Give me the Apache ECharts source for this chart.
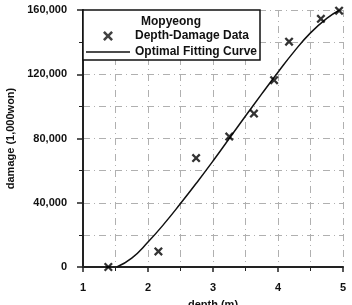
<!DOCTYPE html>
<html>
<head>
<meta charset="utf-8">
<script src="https://cdn.jsdelivr.net/npm/echarts@6/dist/echarts.min.js"></script>
<style>html,body{margin:0;padding:0;background:#fff}#c{width:352px;height:305px}</style>
</head>
<body>
<div id="c"></div>
<script>
var dataDepth = [1.39, 2.16, 2.74, 3.25, 3.63, 3.94, 4.17, 4.66, 4.94];
var dataDamage = [0, 9700, 67800, 81200, 95500, 116300, 140300, 154500, 159600];
var curveDepth = [1.52, 1.75, 2.0, 2.25, 2.5, 2.75, 3.0, 3.25, 3.5, 3.75, 4.0, 4.25, 4.5, 4.75, 4.95];
var curveDamage = [0, 5500, 15500, 27000, 39500, 52500, 66000, 80000, 94000, 107750, 121250, 134250, 145750, 154750, 160000];
var xTicks = [1, 2, 3, 4, 5];
var yTicks = [0, 40000, 80000, 120000, 160000];
var legendTitle = 'Mopyeong';
var seriesNames = ['Depth-Damage Data', 'Optimal Fitting Curve'];

var crossPath = 'path://M0,1.8 L1.8,0 L5,3.2 L8.2,0 L10,1.8 L6.8,5 L10,8.2 L8.2,10 L5,6.8 L1.8,10 L0,8.2 L3.2,5 Z';
var linePath = 'path://M0,0 L44,0 L44,1.5 L0,1.5 Z';
var font = 'Liberation Sans, Arial, sans-serif';
var gridLine = {show: true, lineStyle: {color: '#b0b0b0', width: 1, type: [7, 4, 1, 4]}};

var chart = echarts.init(document.getElementById('c'));
chart.setOption({
  animation: false,
  backgroundColor: '#fff',
  title: {
    text: legendTitle, left: 171, top: 16, textAlign: 'center', padding: 0,
    textStyle: {fontFamily: font, fontWeight: 'bold', fontSize: 12, color: '#111'}
  },
  legend: {
    orient: 'vertical', left: 83, top: 10,
    padding: [20, 3, 2, 3],
    itemWidth: 44, itemHeight: 10, itemGap: 4, itemTextGap: 4,
    backgroundColor: '#fff', borderColor: '#111', borderWidth: 1.5,
    textStyle: {fontFamily: font, fontWeight: 'bold', fontSize: 12, color: '#111'},
    data: [
      {name: seriesNames[0], icon: crossPath, itemStyle: {color: '#111'}},
      {name: seriesNames[1], icon: linePath, itemStyle: {color: '#111'}}
    ]
  },
  grid: {left: 83, right: 9, top: 10, bottom: 38, outerBoundsMode: 'none', containLabel: false},
  xAxis: {
    type: 'value', min: xTicks[0], max: xTicks[xTicks.length - 1], interval: 1,
    name: 'depth (m)', nameLocation: 'middle', nameGap: 32,
    nameTextStyle: {fontFamily: font, fontWeight: 'bold', fontSize: 11, color: '#111'},
    axisLine: {lineStyle: {color: '#222', width: 2}},
    axisTick: {show: true, length: 5, lineStyle: {color: '#222', width: 1.5}},
    minorTick: {show: true, splitNumber: 2, length: 4, lineStyle: {color: '#222', width: 1}},
    splitLine: gridLine,
    minorSplitLine: gridLine,
    axisLabel: {margin: 15, fontFamily: font, fontWeight: 'bold', fontSize: 11, color: '#111'}
  },
  yAxis: {
    type: 'value', min: yTicks[0], max: yTicks[yTicks.length - 1], interval: 40000,
    name: 'damage (1,000won)', nameLocation: 'middle', nameGap: 67,
    nameTextStyle: {fontFamily: font, fontWeight: 'bold', fontSize: 11, color: '#111'},
    axisLine: {show: true, lineStyle: {color: '#222', width: 2}},
    axisTick: {show: true, length: 6, lineStyle: {color: '#222', width: 1.5}},
    minorTick: {show: true, splitNumber: 2, length: 4, lineStyle: {color: '#222', width: 1}},
    splitLine: gridLine,
    minorSplitLine: gridLine,
    axisLabel: {
      margin: 16, fontFamily: font, fontWeight: 'bold', fontSize: 11, color: '#111',
      formatter: function (v) { return v.toLocaleString('en-US'); }
    }
  },
  series: [
    {
      name: seriesNames[0], type: 'scatter', symbol: crossPath, symbolSize: 9,
      itemStyle: {color: '#000'}, z: 5,
      data: dataDepth.map(function (d, i) { return [d, dataDamage[i]]; })
    },
    {
      name: seriesNames[1], type: 'line', smooth: 0.5, showSymbol: false, symbol: 'none',
      lineStyle: {color: '#111', width: 1.5}, itemStyle: {color: '#111'},
      data: curveDepth.map(function (d, i) { return [d, curveDamage[i]]; })
    }
  ]
});
</script>
</body>
</html>
